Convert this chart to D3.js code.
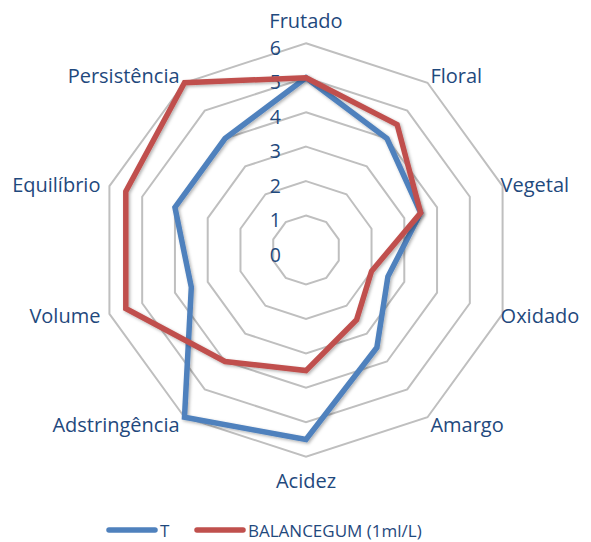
<html><head>
<meta charset="utf-8">
<script src="https://d3js.org/d3.v7.min.js"></script>
<style>
  body { margin: 0; background: #fff; }
  text { font-family: "Open Sans", sans-serif; fill: #1f497d; }
  .ring { fill: none; stroke: #bfbfbf; stroke-width: 2px; }
</style>
</head>
<body>
<script>
// categories (clockwise from top)
const categories = ["Frutado", "Floral", "Vegetal", "Oxidado", "Amargo", "Acidez",
                    "Adstringência", "Volume", "Equilíbrio", "Persistência"];
const ticks = [0, 1, 2, 3, 4, 5, 6];
const seriesNames = ["T", "BALANCEGUM (1ml/L)"];
const valuesT = [5, 4, 3.5, 2.5, 3.5, 5.5, 6, 3.5, 4, 4];
const valuesB = [5, 4.5, 3.5, 2, 2.5, 3.5, 4, 5.5, 5.5, 6];
const colors = ["#4f81bd", "#c0504d"];

const width = 591, height = 542;
const cx = 306, cy = 250;

const svg = d3.select("body").append("svg")
  .attr("width", width).attr("height", height);

const defs = svg.append("defs");
const shadow = defs.append("filter").attr("id", "shadow")
  .attr("x", "-10%").attr("y", "-10%").attr("width", "120%").attr("height", "120%");
shadow.append("feDropShadow").attr("dx", 1.5).attr("dy", 1.5)
  .attr("stdDeviation", 1.5).attr("flood-color", "#000").attr("flood-opacity", 0.3);

const r = d3.scaleLinear().domain([0, 6]).range([0, 206.7]);
const angle = d3.scaleLinear().domain([0, categories.length]).range([0, 2 * Math.PI]);

const g = svg.append("g").attr("transform", `translate(${cx},${cy})`);

const radial = d3.lineRadial()
  .angle((d, i) => angle(i))
  .radius(d => r(d))
  .curve(d3.curveLinearClosed);

// gridlines
g.selectAll("path.ring").data(ticks.slice(1))
  .join("path")
  .attr("class", "ring")
  .attr("d", t => radial(categories.map(() => t)));

// tick labels
g.selectAll("text.tick").data(ticks)
  .join("text")
  .attr("class", "tick")
  .attr("x", -25)
  .attr("y", t => -r(t) + 4)
  .attr("text-anchor", "end")
  .attr("dominant-baseline", "central")
  .style("font-size", "19.5px")
  .text(t => t);

// series
const series = [valuesT, valuesB];
g.selectAll("path.series").data(series)
  .join("path")
  .attr("class", "series")
  .attr("d", d => radial(d))
  .attr("fill", "none")
  .attr("stroke", (d, i) => colors[i])
  .attr("stroke-width", 5.5)
  .attr("stroke-linejoin", "miter")
  .attr("filter", "url(#shadow)");

// category labels
const R = r(6);
g.selectAll("text.cat").data(categories)
  .join("text")
  .attr("class", "cat")
  .each(function(d, i) {
    const a = angle(i);
    const s = Math.sin(a), c = Math.cos(a);
    let x, y, anchor;
    if (Math.abs(s) < 0.01) {
      x = 0; anchor = "middle";
      y = c > 0 ? -R - 23 : R + 24;
    } else if (Math.abs(s) > 0.9) {
      x = s * R + (s > 0 ? -2 : -9);
      y = -c * R - 2 * Math.sign(c);
      anchor = s > 0 ? "start" : "end";
    } else {
      x = s * (R + 5) + (s > 0 ? 0 : -2);
      y = -c * (R + 5) - 3 * Math.sign(c);
      anchor = s > 0 ? "start" : "end";
    }
    d3.select(this).attr("x", x).attr("y", y)
      .attr("text-anchor", anchor)
      .attr("dominant-baseline", "central");
  })
  .style("font-size", "20px")
  .text(d => d);

// legend
const legend = svg.append("g").attr("transform", "translate(0,530)");
const legendX = [107, 195];
seriesNames.forEach((name, i) => {
  legend.append("line")
    .attr("x1", legendX[i] + 2).attr("x2", legendX[i] + 48)
    .attr("y1", 0).attr("y2", 0)
    .attr("stroke", colors[i]).attr("stroke-width", 5.5)
    .attr("stroke-linecap", "round");
  legend.append("text")
    .attr("x", legendX[i] + 53).attr("y", 0)
    .attr("dominant-baseline", "central")
    .style("font-size", "17px")
    .text(name);
});
</script>
</body></html>
